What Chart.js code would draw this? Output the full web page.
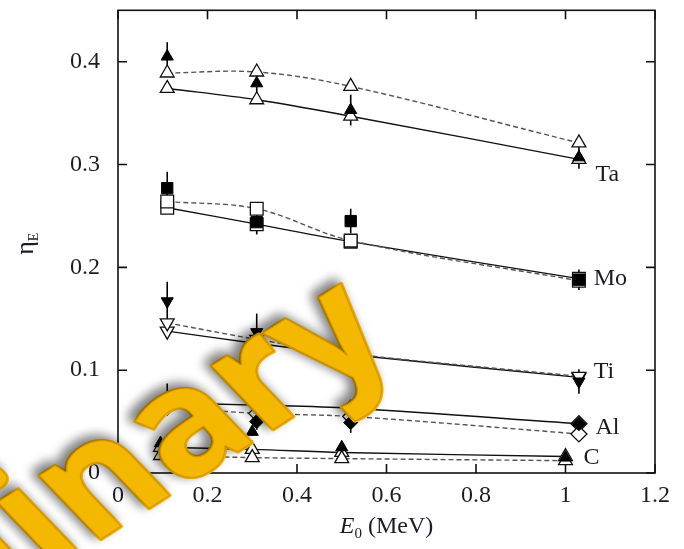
<!DOCTYPE html>
<html>
<head>
<meta charset="utf-8">
<script src="https://cdn.jsdelivr.net/npm/chart.js@4.4.1/dist/chart.umd.min.js"></script>
<style>
  html, body { margin: 0; background: #fff; }
  canvas { display: block; }
</style>
</head>
<body>
<canvas id="eta" width="684" height="549"></canvas>
<script>
// beam energies (MeV) and energy reflection coefficients per target
const xTa = [0.11, 0.31, 0.52, 1.03];
const taSolid  = [0.374, 0.363, 0.347, 0.305];
const taDashed = [0.389, 0.390, 0.376, 0.321];
const taExp    = [0.405, 0.379, 0.353, 0.307];
const taErr    = [0.014, 0.010, 0.015, 0.011];

const xMo = [0.11, 0.31, 0.52, 1.03];
const moSolid  = [0.258, 0.242, 0.225, 0.189];
const moDashed = [0.264, 0.257, 0.226, 0.187];
const moExp    = [0.277, 0.244, 0.245, 0.188];
const moErr    = [0.016, 0.012, 0.012, 0.010];

const xTi = [0.11, 0.31, 0.52, 1.03];
const tiSolid  = [0.138, 0.126, 0.115, 0.093];
const tiDashed = [0.146, 0.130, 0.116, 0.094];
const tiExp    = [0.167, 0.137, 0.137, 0.089];
const tiErr    = [0.019, 0.018, 0.020, 0.012];

const xAl = [0.11, 0.31, 0.52, 1.03];
const alSolid  = [0.068, 0.066, 0.063, 0.048];
const alDashed = [0.064, 0.058, 0.055, 0.038];
const alExp    = [0.072, 0.050, 0.049, 0.048];
const alErr    = [0.015, 0.008, 0.010, 0.005];

const xC = [0.095, 0.30, 0.50, 1.0];
const cSolid  = [0.025, 0.023, 0.020, 0.016];
const cDashed = [0.017, 0.015, 0.014, 0.012];
const cExp    = [0.029, 0.040, 0.025, 0.015];
const cErr    = [0.004, 0.004, 0.004, 0.004];

const xTicks = [0, 0.2, 0.4, 0.6, 0.8, 1.0, 1.2];
const yTicks = [0, 0.1, 0.2, 0.3, 0.4];

const series = [
  { name: 'Ta', x: xTa, solid: taSolid, dashed: taDashed, exp: taExp, err: taErr },
  { name: 'Mo', x: xMo, solid: moSolid, dashed: moDashed, exp: moExp, err: moErr },
  { name: 'Ti', x: xTi, solid: tiSolid, dashed: tiDashed, exp: tiExp, err: tiErr },
  { name: 'Al', x: xAl, solid: alSolid, dashed: alDashed, exp: alExp, err: alErr },
  { name: 'C',  x: xC,  solid: cSolid,  dashed: cDashed,  exp: cExp,  err: cErr }
];

// marker shapes per target
const markers = {
  Ta: { style: 'triangle', rot: 0,   r: 8 },
  Mo: { style: 'rect',     rot: 0,   r: 9 },
  Ti: { style: 'triangle', rot: 180, r: 8 },
  Al: { style: 'rectRot',  rot: 0,   r: 8 },
  C:  { style: 'triangle', rot: 0,   r: 8 }
};

// where the element names sit (data coords of the left/middle of the text)
const tagPos = {
  Ta: [1.067, 0.290], Mo: [1.063, 0.189], Ti: [1.063, 0.099],
  Al: [1.067, 0.044], C: [1.040, 0.015]
};

const pts = (xs, ys) => ys.map((v, i) => ({ x: xs[i], y: v }));

const expSets = series.map(s => ({
  label: s.name + ' exp',
  data: pts(s.x, s.exp),
  showLine: false,
  pointStyle: markers[s.name].style,
  pointRotation: markers[s.name].rot,
  pointRadius: markers[s.name].r - 1,
  pointBackgroundColor: '#000',
  pointBorderColor: '#000',
  pointBorderWidth: 1
}));

const simSets = [];
series.forEach(s => {
  [['dashed', [5, 3], '#555'], ['solid', [], '#111']].forEach(([key, dash, col]) => {
    simSets.push({
      label: s.name + ' ' + key,
      data: pts(s.x, s[key]),
      borderColor: col,
      borderWidth: 1.4,
      borderDash: dash,
      tension: 0.35,
      fill: false,
      pointStyle: markers[s.name].style,
      pointRotation: markers[s.name].rot,
      pointRadius: markers[s.name].r,
      pointBackgroundColor: '#fff',
      pointBorderColor: '#111',
      pointBorderWidth: 1.3
    });
  });
});

const tickFont = { family: '"Liberation Serif", serif', size: 24 };
const fmt = v => (Math.abs(v) < 1e-9 ? '0' : String(+v.toFixed(1)));

const decor = {
  id: 'decor',
  beforeDatasetsDraw(chart) {
    const { ctx, scales: { x, y } } = chart;
    ctx.save();
    ctx.strokeStyle = '#000';
    ctx.lineWidth = 1.6;
    series.forEach(s => s.exp.forEach((v, i) => {
      const px = x.getPixelForValue(s.x[i]);
      ctx.beginPath();
      ctx.moveTo(px, y.getPixelForValue(v + s.err[i]));
      ctx.lineTo(px, y.getPixelForValue(v - s.err[i]));
      ctx.stroke();
    }));
    ctx.restore();
  },
  afterDatasetsDraw(chart) {
    const { ctx, chartArea: a, scales: { x, y } } = chart;
    ctx.save();
    // frame with inward ticks on all sides
    ctx.strokeStyle = '#111';
    ctx.lineWidth = 1.6;
    ctx.strokeRect(a.left, a.top, a.right - a.left, a.bottom - a.top);
    const tl = 9;
    ctx.beginPath();
    xTicks.forEach(v => {
      const px = x.getPixelForValue(v);
      ctx.moveTo(px, a.bottom); ctx.lineTo(px, a.bottom - tl);
      ctx.moveTo(px, a.top); ctx.lineTo(px, a.top + tl);
    });
    yTicks.forEach(v => {
      const py = y.getPixelForValue(v);
      ctx.moveTo(a.left, py); ctx.lineTo(a.left + tl, py);
      ctx.moveTo(a.right, py); ctx.lineTo(a.right - tl, py);
    });
    ctx.stroke();

    // element names next to the curves
    ctx.fillStyle = '#1b1b2a';
    ctx.font = '24px "Liberation Serif", serif';
    ctx.textAlign = 'left';
    ctx.textBaseline = 'middle';
    series.forEach(s => {
      const [tx, ty] = tagPos[s.name];
      ctx.fillText(s.name, x.getPixelForValue(tx), y.getPixelForValue(ty));
    });
    ctx.restore();
  },
  afterDraw(chart) {
    const { ctx, chartArea: a } = chart;
    ctx.save();
    ctx.fillStyle = '#1b1b2a';
    ctx.textBaseline = 'alphabetic';

    // x title: E0 (MeV)
    const big = '24px "Liberation Serif", serif';
    const bigI = 'italic 24px "Liberation Serif", serif';
    const sub = '15px "Liberation Serif", serif';
    ctx.font = bigI; const wE = ctx.measureText('E').width;
    ctx.font = sub;  const w0 = ctx.measureText('0').width;
    ctx.font = big;  const wR = ctx.measureText(' (MeV)').width;
    let cx = (a.left + a.right) / 2 - (wE + w0 + wR) / 2;
    const by = 533;
    ctx.font = bigI; ctx.fillText('E', cx, by); cx += wE;
    ctx.font = sub;  ctx.fillText('0', cx, by + 5); cx += w0;
    ctx.font = big;  ctx.fillText(' (MeV)', cx, by);

    // y title: eta_E
    ctx.translate(33, 243);
    ctx.rotate(-Math.PI / 2);
    ctx.font = '26px "Liberation Serif", serif';
    const wEta = ctx.measureText('η').width;
    ctx.fillText('η', -wEta / 2 - 5, 0);
    ctx.font = '14px "Liberation Serif", serif';
    ctx.fillText('E', wEta / 2 - 5, 5);
    ctx.restore();

    // draft stamp across the lower left
    ctx.save();
    ctx.font = '700 162px "Open Sans", sans-serif';
    const lead = ctx.measureText('Prelimi').width;
    ctx.setTransform(0.843, -0.537, 0.69, 0.72, 90, 546);
    ctx.lineJoin = 'round';
    ctx.shadowColor = 'rgba(0,0,0,0.5)';
    ctx.shadowBlur = 11;
    ctx.shadowOffsetX = -6;
    ctx.shadowOffsetY = -3;
    ctx.fillStyle = '#F5B800';
    ctx.strokeStyle = '#F5B800';
    ctx.lineWidth = 4;
    ctx.strokeText('Preliminary', -lead, 0);
    ctx.fillText('Preliminary', -lead, 0);
    ctx.shadowColor = 'transparent';
    ctx.strokeStyle = 'rgba(214,150,0,0.9)';
    ctx.lineWidth = 1.2;
    ctx.strokeText('Preliminary', -lead, 0);
    ctx.restore();
  }
};

const noPad = s => { s.paddingTop = 0; s.paddingBottom = 0; s.paddingLeft = 0; s.paddingRight = 0; };

new Chart(document.getElementById('eta'), {
  type: 'line',
  data: { datasets: expSets.concat(simSets) },
  options: {
    responsive: false,
    animation: false,
    devicePixelRatio: 1,
    layout: { padding: { top: 7, right: 29, left: 0, bottom: 0 } },
    plugins: { legend: { display: false }, tooltip: { enabled: false } },
    scales: {
      x: {
        type: 'linear',
        min: 0, max: 1.2,
        grid: { display: false, drawTicks: false },
        border: { display: false },
        ticks: { stepSize: 0.2, font: tickFont, color: '#1b1b2a', padding: 8, callback: fmt, maxRotation: 0 },
        afterFit: s => { s.height = 76; noPad(s); }
      },
      y: {
        type: 'linear',
        min: 0, max: 0.45,
        grid: { display: false, drawTicks: false },
        border: { display: false },
        ticks: { stepSize: 0.1, includeBounds: false, font: tickFont, color: '#1b1b2a', padding: 18, callback: fmt },
        afterFit: s => { s.width = 118; noPad(s); }
      }
    }
  },
  plugins: [decor]
});
</script>
</body>
</html>
